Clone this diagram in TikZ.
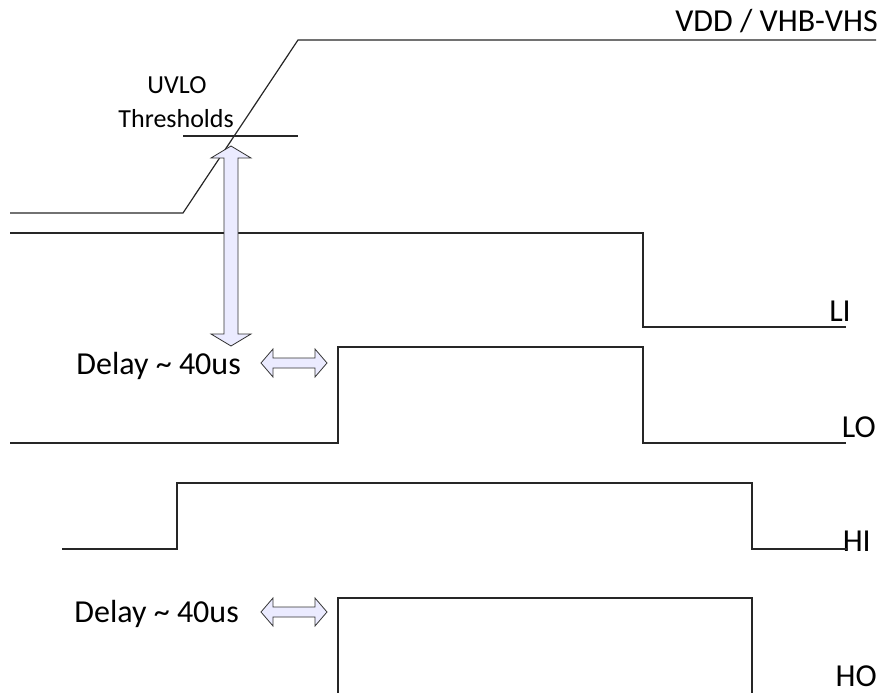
\documentclass[tikz,border=0pt]{standalone}
\usepackage{fontspec}
\setmainfont{Carlito}
\begin{document}
\begin{tikzpicture}[x=1pt,y=-1pt,
  sig/.style={line width=1.2pt,draw=black!85,line join=miter},
  arr/.style={line width=0.8pt,draw=black!80,fill=blue!8!white,line join=miter},
  lbl/.style={inner sep=0pt,font=\fontsize{32}{38}\selectfont},
  sml/.style={inner sep=0pt,font=\fontsize{26}{31}\selectfont},
  nodes={lbl}]
\useasboundingbox (0,0) rectangle (889,693);
% texts
\node[anchor=base east] (vdd) at (878,32) {VDD / VHB-VHS};
\node[sml,anchor=base] (uvlo) at (177,93) {UVLO};
\node[sml,anchor=base east] (thr) at (234,127) {Thresholds};
\node[anchor=base east] (li) at (851,321) {LI};
\node[anchor=base east] (lo) at (876,437) {LO};
\node[anchor=base east] (hi) at (871,551) {HI};
\node[anchor=base east] (ho) at (877,686) {HO};
\node[anchor=base east] (d1) at (241,374) {Delay \textasciitilde{} 40us};
\node[anchor=base east] (d2) at (239,622) {Delay \textasciitilde{} 40us};
% waveforms
\draw[sig] (10,213) -- (183,213) -- (298,40) -- (876,40);
\draw[sig] (183,136) -- (298,136);
\draw[sig] (10,233) -- (643,233) -- (643,327) -- (846,327);
\draw[sig] (10,443) -- (338,443) -- (338,347) -- (643,347) -- (643,443) -- (846,443);
\draw[sig] (62,549) -- (177,549) -- (177,483) -- (752,483) -- (752,549) -- (848,549);
\draw[sig] (338,693) -- (338,598) -- (752,598) -- (752,693);
% double arrows
\draw[arr] (231,146) -- (251,158) -- (238,158) -- (238,334) -- (251,334) -- (231,346)
  -- (211,334) -- (224,334) -- (224,158) -- (211,158) -- cycle;
\draw[arr] (261,363) -- (273,349) -- (273,358) -- (315,358) -- (315,349) -- (327,363)
  -- (315,377) -- (315,368) -- (273,368) -- (273,377) -- cycle;
\draw[arr] (261,612) -- (273,598) -- (273,607) -- (315,607) -- (315,598) -- (327,612)
  -- (315,626) -- (315,617) -- (273,617) -- (273,626) -- cycle;
\end{tikzpicture}
\end{document}
